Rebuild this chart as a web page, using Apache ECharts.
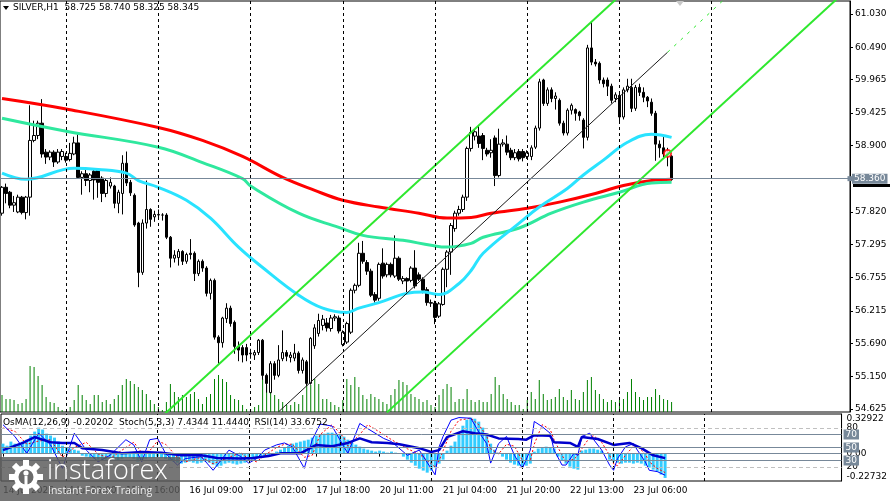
<!DOCTYPE html>
<html>
<head>
<meta charset="utf-8">
<script src="https://cdn.jsdelivr.net/npm/echarts@6/dist/echarts.min.js"></script>
<style>
  html, body { margin: 0; padding: 0; background: #fff; }
  #chart { width: 890px; height: 501px; }
</style>
</head>
<body>
<div id="chart"></div>
<script>
// SILVER,H1 - candles, 3 MAs, channel, volumes + OsMA/Stoch/RSI panel
const FONT = 'DejaVu Sans';
const SLOTS = 212;

const opens = [57.80,58.22,58.14,57.93,57.82,58.06,57.81,58.06,58.98,59.06,59.26,58.79,58.71,58.79,58.63,58.72,58.72,58.67,58.76,58.94,
  58.38,58.44,58.33,58.48,58.50,58.37,58.12,58.24,58.24,57.96,58.12,58.61,58.30,58.09,57.64,56.84,57.64,57.86,57.74,57.77,
  57.77,57.77,57.41,57.07,57.08,57.18,57.02,57.15,57.15,56.82,57.02,56.91,56.50,56.71,55.79,55.70,56.09,56.26,56.03,55.64,
  55.62,55.62,55.52,55.50,55.54,55.74,55.17,54.89,55.36,55.17,55.44,55.54,55.46,55.45,55.53,55.25,55.39,55.04,55.65,55.85,
  55.98,56.02,55.93,56.10,56.10,55.67,55.71,55.87,56.55,56.63,57.15,57.00,56.86,56.48,56.42,56.99,56.80,56.97,56.78,57.07,
  56.70,56.74,56.71,56.91,56.80,56.73,56.56,56.34,56.34,56.13,56.32,56.89,57.17,57.55,57.80,57.86,58.06,58.85,59.05,59.05,
  59.06,58.82,58.78,59.02,58.41,58.92,58.92,58.82,58.70,58.80,58.80,58.72,58.72,58.87,59.18,59.96,59.58,59.80,59.66,59.63,
  59.26,59.10,59.47,59.48,59.44,59.31,59.03,60.48,60.25,60.23,59.96,59.96,59.86,59.66,59.71,59.36,59.80,59.84,59.50,59.84,
  59.76,59.68,59.60,59.42,58.92,58.86,58.74,58.725];
const closes = [58.22,58.12,57.93,57.97,58.06,57.81,58.06,58.98,59.06,59.26,58.76,58.71,58.79,58.63,58.79,58.80,58.66,58.77,58.94,58.38,
  58.44,58.33,58.42,58.34,58.30,58.12,58.33,58.30,57.96,58.14,58.61,58.29,58.13,57.61,56.84,57.64,57.86,57.70,57.78,57.78,
  57.77,57.41,57.07,57.12,57.18,57.02,57.13,57.13,56.82,57.02,56.91,56.50,56.71,55.79,55.70,56.10,56.26,56.01,55.64,55.58,
  55.50,55.50,55.53,55.54,55.74,55.17,55.04,55.36,55.17,55.42,55.54,55.48,55.50,55.53,55.25,55.42,55.04,55.77,55.94,56.06,
  56.08,55.94,56.10,56.12,55.89,55.87,56.01,56.55,56.63,57.15,57.02,56.86,56.47,56.39,56.97,56.78,56.97,56.80,57.07,56.73,
  56.74,56.70,56.91,56.62,56.73,56.55,56.35,56.35,56.11,56.33,56.89,57.17,57.60,57.80,57.86,58.06,58.85,59.11,59.12,58.93,
  58.85,58.76,58.82,58.41,58.92,58.94,58.79,58.70,58.78,58.68,58.70,58.78,58.86,59.18,59.93,59.58,59.80,59.66,59.70,59.26,
  59.10,59.47,59.55,59.42,59.38,59.03,60.48,60.25,60.22,59.96,59.90,59.86,59.63,59.72,59.36,59.80,59.86,59.50,59.84,59.76,
  59.68,59.62,59.42,58.92,58.86,58.76,58.78,58.345];
const lows = [57.76,57.96,57.88,57.82,57.80,57.78,57.70,57.76,58.95,59.00,58.70,58.60,58.66,58.55,58.60,58.66,58.62,58.64,58.74,58.36,
  58.10,58.24,58.14,58.02,58.05,57.98,58.06,58.20,57.88,57.80,57.78,58.24,58.08,57.58,56.60,56.80,57.55,57.58,57.66,57.70,
  57.68,57.38,56.92,57.00,56.95,56.96,56.98,57.05,56.70,56.78,56.85,56.45,56.40,55.75,55.36,55.62,56.02,55.96,55.52,55.40,
  55.38,55.40,55.44,55.42,55.50,55.10,54.89,54.88,55.10,55.14,55.40,55.40,55.38,55.40,55.20,55.20,55.00,55.02,55.60,55.80,
  55.90,55.88,55.88,56.05,55.85,55.64,55.68,55.84,56.50,56.60,56.98,56.80,56.44,56.35,56.38,56.74,56.76,56.76,56.75,56.70,
  56.65,56.48,56.68,56.58,56.70,56.50,56.30,56.28,56.00,56.10,56.30,56.60,56.80,57.50,57.76,57.82,58.00,58.80,58.98,58.86,
  58.66,58.72,58.70,58.24,58.38,58.88,58.74,58.66,58.66,58.64,58.64,58.68,58.66,58.84,59.14,59.54,59.54,59.60,59.48,59.22,
  59.06,59.06,59.40,59.30,59.30,58.85,58.98,60.20,60.18,59.90,59.84,59.70,59.58,59.60,59.26,59.32,59.76,59.44,59.46,59.70,
  59.60,59.52,59.38,58.65,58.70,58.70,58.56,58.325];
const highs = [58.24,58.28,58.16,58.08,58.10,58.08,58.08,59.55,59.30,59.30,59.65,58.84,58.82,58.82,58.84,58.84,58.78,58.94,59.04,59.08,
  58.48,58.52,58.45,58.52,58.52,58.40,58.36,58.38,58.26,58.18,58.74,58.80,58.34,58.12,57.66,57.70,58.33,57.88,57.84,57.86,
  57.80,57.80,57.43,57.20,57.22,57.20,57.16,57.38,57.18,57.05,57.05,56.94,56.74,56.74,55.82,56.12,56.34,56.30,56.06,55.72,
  55.66,55.68,55.60,55.58,55.76,55.76,55.20,55.40,55.40,55.66,55.90,55.58,55.55,55.68,55.56,55.46,55.42,55.79,56.00,56.17,
  56.15,56.10,56.15,56.16,56.14,55.90,56.04,56.58,56.66,57.32,57.35,57.04,56.90,56.52,57.00,57.23,57.00,57.00,57.44,57.10,
  56.78,56.76,56.94,57.20,56.84,56.76,56.60,56.40,56.38,56.36,56.92,57.20,57.64,57.84,57.92,58.10,58.88,59.20,59.16,59.22,
  59.10,58.86,59.00,59.06,59.17,59.00,59.06,58.86,58.84,58.84,58.84,58.82,58.90,59.22,59.98,59.98,59.84,59.84,59.76,59.66,
  59.30,59.50,59.58,59.50,59.46,59.34,60.53,60.90,60.30,60.26,60.00,60.00,59.90,59.76,59.74,59.84,59.98,59.98,59.88,59.90,
  59.84,59.70,59.66,59.46,58.98,59.04,58.86,58.74];
const volumes = [17,13,13,12,8,9,13,46,45,36,27,15,10,9,5,2,1,5,12,27,
  17,12,8,17,17,10,12,8,13,17,27,33,31,28,25,22,18,12,8,5,
  2,10,28,20,15,17,15,18,20,13,8,15,18,33,37,33,30,17,13,12,
  7,3,3,5,7,33,27,27,17,13,10,7,7,10,8,17,27,27,33,28,
  13,13,10,7,5,12,33,27,35,25,17,13,18,15,13,10,8,17,23,32,
  30,27,18,15,13,10,12,7,5,17,23,28,25,10,13,13,23,12,10,12,
  10,10,18,35,27,18,13,10,7,7,3,12,20,13,32,18,12,13,15,23,
  15,12,22,13,12,20,32,35,22,18,13,10,12,10,12,13,20,33,20,15,
  12,15,15,23,17,13,12,10];

// moving averages as [bar, price]
const maRed = [[0,59.66],[16,59.49],[39,59.19],[50,58.98],[60,58.72],[70,58.38],[78,58.17],[85,58.01],[94,57.90],[104,57.80],
  [111,57.72],[117,57.73],[122,57.80],[131,57.88],[139,57.98],[148,58.12],[155,58.25],[162,58.33],[167,58.35]];
const maGreen = [[0,59.34],[16,59.13],[39,58.87],[50,58.62],[60,58.36],[62,58.24],[74,57.80],[84,57.57],[90,57.44],[100,57.36],
  [107,57.28],[111,57.25],[117,57.31],[120,57.41],[129,57.56],[137,57.80],[145,57.98],[154,58.14],[162,58.29],[167,58.30]];
const maCyan = [[0,58.45],[6,58.35],[18,58.53],[24,58.51],[31,58.45],[34,58.33],[39,58.22],[46,58.01],[52,57.72],[59,57.25],
  [65,56.92],[74,56.47],[80,56.26],[86,56.19],[89,56.26],[94,56.35],[101,56.50],[105,56.52],[109,56.48],[114,56.66],
  [117,56.87],[120,57.15],[129,57.64],[134,57.90],[141,58.20],[145,58.42],[150,58.66],[156,58.95],[162,59.08],[167,59.03]];

// channel lines [bar, price]
const chanUpper = [[40,54.51],[156,61.44]];
const chanMid = [[69,54.58],[166,60.41]];
const chanMidRay = [[166,60.41],[180,61.26]];
const chanLower = [[96,54.57],[209,61.32]];
const alertMark = [[166,58.77]];

const osma = [0.083,0.066,0.100,0.083,0.075,0.100,0.116,0.150,0.183,0.216,0.200,0.166,0.150,0.133,0.100,0.066,0.050,0.042,0.033,0.025,
  -0.017,-0.025,-0.033,-0.042,-0.050,-0.058,-0.050,-0.042,-0.050,-0.058,-0.042,-0.033,-0.033,-0.042,-0.066,-0.058,-0.042,-0.033,-0.033,-0.025,
  -0.033,-0.042,-0.058,-0.066,-0.075,-0.083,-0.075,-0.066,-0.075,-0.083,-0.075,-0.066,-0.075,-0.091,-0.108,-0.100,-0.083,-0.075,-0.083,-0.091,
  -0.083,-0.075,-0.058,-0.050,-0.042,-0.033,-0.025,-0.017,-0.008,0.017,0.033,0.050,0.066,0.083,0.091,0.100,0.108,0.116,0.133,0.150,
  0.158,0.166,0.174,0.174,0.166,0.158,0.141,0.116,0.091,0.075,0.058,0.042,0.033,0.025,0.017,0.025,0.017,0.008,0.017,0.008,
  0.002,-0.025,-0.050,-0.075,-0.100,-0.125,-0.141,-0.158,-0.141,-0.116,-0.083,-0.050,0.025,0.066,0.100,0.166,0.232,0.282,0.299,0.290,
  0.266,0.216,0.150,0.083,0.033,0.008,-0.025,-0.050,-0.075,-0.091,-0.100,-0.108,-0.100,-0.083,0.017,0.042,0.050,0.058,0.050,0.042,
  -0.025,-0.058,-0.083,-0.108,-0.125,-0.133,0.025,0.033,0.042,0.042,0.033,0.025,0.000,-0.050,-0.066,-0.075,-0.083,-0.075,-0.075,-0.083,
  -0.075,-0.083,-0.100,-0.116,-0.133,-0.150,-0.174,-0.202];

const stochMain = [[0,85],[3,67],[6,41],[9,72],[12,54],[15,18],[18,72],[21,46],[24,28],[27,38],[31,62],[33,54],[35,28],[37,62],[39,64],
  [41,41],[44,23],[46,33],[50,36],[53,15],[57,46],[60,36],[62,26],[64,33],[66,46],[69,54],[71,57],[73,51],[76,18],[78,62],
  [80,86],[83,83],[86,51],[87,41],[90,87],[92,79],[96,64],[98,59],[102,38],[105,46],[109,8],[110,51],[111,67],[113,92],[115,96],
  [118,95],[120,74],[122,56],[123,26],[125,56],[127,67],[129,38],[131,18],[133,46],[134,90],[136,82],[138,72],[139,46],[141,23],
  [142,23],[144,41],[145,38],[146,67],[148,72],[149,62],[151,46],[153,23],[154,15],[155,33],[157,51],[159,56],[160,46],[162,28],
  [163,15],[165,13],[167,7.43]];
const stochSignal = [[0,80],[3,75],[6,55],[9,60],[12,62],[15,35],[18,50],[21,58],[24,40],[27,33],[31,50],[33,58],[35,42],[37,45],[39,60],
  [41,55],[44,35],[46,28],[50,35],[53,25],[57,35],[60,42],[62,32],[64,28],[66,38],[69,50],[71,55],[73,55],[76,35],[78,38],
  [80,70],[83,85],[86,65],[87,52],[90,70],[92,85],[96,70],[98,62],[102,48],[105,40],[109,20],[110,30],[111,45],[113,75],[115,92],
  [118,95],[120,85],[122,68],[123,48],[125,40],[127,55],[129,52],[131,30],[133,30],[134,55],[136,85],[138,78],[139,62],[141,38],
  [142,28],[144,32],[145,38],[146,48],[148,66],[149,68],[151,58],[153,38],[154,25],[155,22],[157,38],[159,52],[160,52],[162,40],
  [163,28],[165,18],[167,11.44]];
const rsi = [[0,46],[5,57],[8,66],[12,58],[15,57],[18,57],[20,49],[25,46],[30,41],[35,43],[40,42],[45,38],[50,38],[54,34],[60,33],
  [63,34],[67,37],[70,41],[75,41],[79,54],[83,52],[87,57],[90,64],[93,58],[97,57],[100,55],[105,49],[108,43],[110,46],[112,66],
  [116,75],[119,72],[122,70],[125,64],[130,63],[132,62],[134,69],[138,68],[139,58],[143,57],[145,51],[146,66],[150,63],[154,54],
  [158,57],[161,49],[164,38],[167,33.68]];

// axes text
const priceTicks = [54.625, 55.150, 55.690, 56.215, 56.755, 57.295, 57.820, 58.900, 59.425, 59.965, 60.490, 61.030];
const lastPrice = 58.360;
const daySeparators = [16, 39, 62, 85, 108, 131, 154, 177];
const tickIdx = [0, 15, 31, 47, 63, 79, 95, 111, 127, 143, 159];
const tickLabels = ['14 Jul 2026', '14 Jul 23:00', '15 Jul 16:00', '16 Jul 09:00', '17 Jul 02:00', '17 Jul 18:00',
  '20 Jul 11:00', '21 Jul 04:00', '21 Jul 20:00', '22 Jul 13:00', '23 Jul 06:00'];

const cats = [];
for (let i = 0; i < SLOTS; i++) cats.push(String(i));
const ohlc = opens.map((o, i) => [o, closes[i], lows[i], highs[i]]);

const sepLines = {
  silent: true, symbol: 'none', label: { show: false },
  lineStyle: { color: '#000', width: 1, type: [3, 3] },
  data: daySeparators.map(i => ({ xAxis: i }))
};
const boxLabel = (txt) => ({
  show: true, position: 'end', distance: 2, formatter: txt,
  backgroundColor: '#778899', color: '#fff', padding: [1, 2, 0, 2], fontSize: 9, fontFamily: FONT
});

function lineSeries(data, color, width, extra) {
  return Object.assign({
    type: 'line', data: data, showSymbol: false, symbol: 'none', silent: true,
    lineStyle: { color: color, width: width }, xAxisIndex: 0, yAxisIndex: 0, clip: true
  }, extra || {});
}

const chart = echarts.init(document.getElementById('chart'), null, { renderer: 'canvas' });

const gear = [];
for (let k = 0; k < 8; k++) {
  gear.push({ type: 'rect', x: 26, y: 477, rotation: k * Math.PI / 4, z: 101,
    shape: { x: -3, y: -17, width: 6, height: 7 }, style: { fill: '#fff' } });
}

chart.setOption({
  animation: false,
  backgroundColor: '#fff',
  textStyle: { fontFamily: FONT },
  grid: [
    { left: 0, right: 40, top: 1, height: 411, show: true, borderColor: '#000', borderWidth: 1, backgroundColor: '#fff' },
    { left: 0, right: 40, top: 414, height: 67, show: true, borderColor: '#000', borderWidth: 1, backgroundColor: '#fff' }
  ],
  xAxis: [
    { type: 'category', gridIndex: 0, data: cats, boundaryGap: true,
      axisLine: { show: false }, axisTick: { show: false }, axisLabel: { show: false }, splitLine: { show: false } },
    { type: 'category', gridIndex: 1, data: cats, boundaryGap: true,
      axisLine: { show: false },
      axisTick: { show: true, alignWithLabel: true, length: 3, interval: (i) => tickIdx.indexOf(i) >= 0, lineStyle: { color: '#000' } },
      axisLabel: { show: true, interval: (i) => tickIdx.indexOf(i) >= 0, align: 'left', margin: 5,
        color: '#000', fontSize: 9, fontFamily: FONT,
        formatter: (v) => tickLabels[tickIdx.indexOf(Number(v))] || '' },
      splitLine: { show: false } }
  ],
  yAxis: [
    { type: 'value', gridIndex: 0, position: 'right', min: 54.576, max: 61.241, scale: true,
      axisLine: { show: true, lineStyle: { color: '#000' } },
      axisTick: { show: true, length: 3, customValues: priceTicks, lineStyle: { color: '#000' } },
      axisLabel: { show: true, customValues: priceTicks, margin: 5, color: '#000', fontSize: 9, fontFamily: FONT,
        formatter: (v) => v.toFixed(3) },
      splitLine: { show: false } },
    { type: 'value', gridIndex: 0, position: 'left', min: 0, max: 411, show: false, splitLine: { show: false } },
    { type: 'value', gridIndex: 1, position: 'right', min: -0.22732, max: 0.32922,
      axisLine: { show: true, lineStyle: { color: '#000' } },
      axisTick: { show: false },
      axisLabel: { show: true, customValues: [-0.22732, 0, 0.32922], margin: 5, color: '#000', fontSize: 9, fontFamily: FONT,
        verticalAlignMaxLabel: 'top', verticalAlignMinLabel: 'bottom',
        formatter: (v) => (v === 0 ? '0.00' : v.toFixed(5)) },
      splitLine: { show: false } },
    { type: 'value', gridIndex: 1, position: 'right', min: -1.5, max: 101.5,
      axisLine: { show: false }, axisTick: { show: false },
      axisLabel: { show: true, customValues: [20, 80], margin: 5, color: '#000', fontSize: 9, fontFamily: FONT },
      splitLine: { show: false } }
  ],
  series: [
    { type: 'bar', xAxisIndex: 0, yAxisIndex: 1, data: volumes, barWidth: 1, silent: true,
      itemStyle: { color: '#008000' }, markLine: sepLines },
    { type: 'candlestick', xAxisIndex: 0, yAxisIndex: 0, data: ohlc, barWidth: 3, silent: true,
      itemStyle: { color: '#fff', color0: '#000', borderColor: '#000', borderColor0: '#000', borderWidth: 1 },
      markLine: { silent: true, symbol: ['none', 'rect'], symbolSize: 5,
        lineStyle: { color: '#778899', width: 1, type: 'solid' },
        label: boxLabel(lastPrice.toFixed(3)),
        data: [{ yAxis: lastPrice }] } },
    lineSeries(maRed, '#ff0000', 3, { smooth: 0.4 }),
    lineSeries(maGreen, '#2fe89e', 3, { smooth: 0.4 }),
    lineSeries(maCyan, '#29e3ff', 3, { smooth: 0.4 }),
    lineSeries(chanUpper, '#2ee82e', 2),
    lineSeries(chanMid, '#1a1a1a', 1),
    lineSeries(chanMidRay, '#2ee82e', 1, { lineStyle: { color: '#2ee82e', width: 1, type: [3, 6] } }),
    lineSeries(chanLower, '#2ee82e', 2),
    { type: 'scatter', xAxisIndex: 0, yAxisIndex: 0, data: alertMark, symbol: 'emptyCircle', symbolSize: 7,
      silent: true, itemStyle: { color: '#ff0000', borderWidth: 1.5 } },
    { type: 'bar', xAxisIndex: 1, yAxisIndex: 2, data: osma, barWidth: 3, silent: true,
      itemStyle: { color: '#33ccff' },
      markLine: { silent: true, symbol: 'none', label: { show: false },
        lineStyle: { color: '#778899', width: 1, type: 'solid' },
        data: [{ yAxis: 0 }].concat(daySeparators.map(i => ({ xAxis: i, lineStyle: { color: '#000', type: [3, 3] } }))) } },
    { type: 'line', xAxisIndex: 1, yAxisIndex: 3, data: stochSignal, symbol: 'none', silent: true,
      lineStyle: { color: '#ff0000', width: 1, type: [2, 2] } },
    { type: 'line', xAxisIndex: 1, yAxisIndex: 3, data: stochMain, symbol: 'none', silent: true,
      lineStyle: { color: '#0000ff', width: 1 } },
    { type: 'line', xAxisIndex: 1, yAxisIndex: 3, data: rsi, symbol: 'none', silent: true,
      lineStyle: { color: '#0000cd', width: 2.5 },
      markLine: { silent: true, symbol: 'none', lineStyle: { color: '#778899', width: 1, type: 'solid' },
        label: { show: false },
        data: [
          { yAxis: 80, lineStyle: { color: '#c0c0c0', type: [4, 3] } },
          { yAxis: 70, label: boxLabel('70') },
          { yAxis: 50, label: boxLabel('50') },
          { yAxis: 30, label: boxLabel('30') },
          { yAxis: 20, lineStyle: { color: '#c0c0c0', type: [4, 3] } }
        ] } }
  ],
  graphic: [
    { type: 'polygon', shape: { points: [[3, 6], [9, 6], [6, 10]] }, style: { fill: '#000' }, z: 50 },
    { type: 'text', left: 13, top: 3, z: 50,
      style: { text: 'SILVER,H1  58.725 58.740 58.325 58.345', fill: '#000', font: '9px ' + FONT } },
    { type: 'text', left: 3, top: 418, z: 50,
      style: { text: 'OsMA(12,26,9) -0.20202  Stoch(5,3,3) 7.4344 11.4440  RSI(14) 33.6752', fill: '#000', font: '9px ' + FONT } },
    { type: 'polygon', shape: { points: [[676, 1], [684, 1], [680, 6]] }, style: { fill: '#c8c8c8' }, z: 50 },
    { type: 'rect', shape: { x: 853, y: 184, width: 37, height: 3 }, style: { fill: '#000' }, z: 50 },
    { type: 'rect', shape: { x: 0, y: 457, width: 180, height: 44 }, style: { fill: 'rgba(88,88,88,0.82)' }, z: 100 },
    ...gear,
    { type: 'circle', shape: { cx: 26, cy: 477, r: 12 }, style: { fill: '#fff' }, z: 101 },
    { type: 'circle', shape: { cx: 26, cy: 477, r: 7.5 }, style: { fill: '#6a6a6a' }, z: 102 },
    { type: 'circle', shape: { cx: 26, cy: 473, r: 2.6 }, style: { fill: '#fff' }, z: 103 },
    { type: 'rect', shape: { x: 24.5, y: 476, width: 3, height: 9 }, style: { fill: '#fff' }, z: 103 },
    { type: 'text', left: 47, top: 458, z: 104,
      style: { text: 'instaforex', fill: '#fff', font: '300 27px "Open Sans"' } },
    { type: 'text', left: 48, top: 486, z: 104,
      style: { text: 'Instant Forex Trading', fill: '#eeeeee', font: '10.5px "Open Sans"' } }
  ]
});
</script>
</body>
</html>
